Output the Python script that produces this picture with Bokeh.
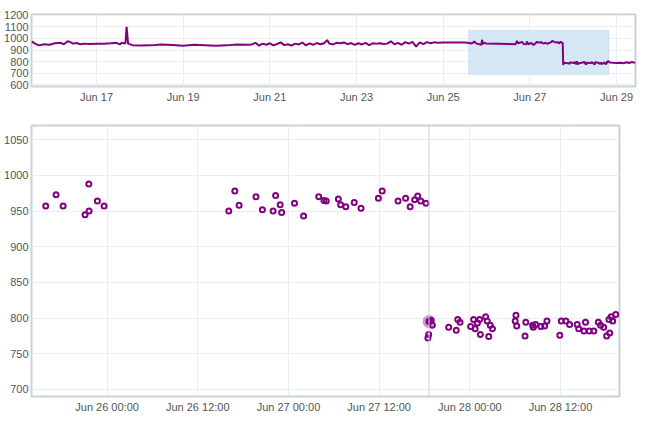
import pandas as pd
from bokeh.plotting import figure
from bokeh.layouts import column
from bokeh.models import (ColumnDataSource, FixedTicker, SingleIntervalTicker,
                          DatetimeTickFormatter, BoxAnnotation, Span, Range1d)
from bokeh.embed import file_html
from bokeh.resources import INLINE

# ---------------- data ----------------
times = [
    "2018-06-15 12:00", "2018-06-15 14:00", "2018-06-15 16:00", "2018-06-15 19:00", "2018-06-15 22:00",
    "2018-06-16 01:00", "2018-06-16 04:00", "2018-06-16 06:00", "2018-06-16 08:00", "2018-06-16 09:00",
    "2018-06-16 11:00", "2018-06-16 13:00", "2018-06-16 15:00", "2018-06-16 17:00", "2018-06-16 20:00",
    "2018-06-17 00:00", "2018-06-17 04:00", "2018-06-17 08:00", "2018-06-17 11:00", "2018-06-17 13:00",
    "2018-06-17 14:00", "2018-06-17 16:00", "2018-06-17 16:40", "2018-06-17 17:30", "2018-06-17 20:00",
    "2018-06-18 00:00", "2018-06-18 06:00", "2018-06-18 12:00", "2018-06-18 18:00", "2018-06-19 00:00",
    "2018-06-19 06:00", "2018-06-19 12:00", "2018-06-19 18:00", "2018-06-20 00:00", "2018-06-20 06:00",
    "2018-06-20 12:00",
    "2018-06-20 14:00", "2018-06-20 16:00", "2018-06-20 18:00", "2018-06-20 20:00", "2018-06-20 22:00",
    "2018-06-21 00:00", "2018-06-21 02:00", "2018-06-21 04:00", "2018-06-21 06:00", "2018-06-21 08:00",
    "2018-06-21 10:00", "2018-06-21 12:00", "2018-06-21 14:00", "2018-06-21 16:00", "2018-06-21 18:00",
    "2018-06-21 20:00", "2018-06-21 22:00", "2018-06-22 00:00", "2018-06-22 02:00", "2018-06-22 04:00",
    "2018-06-22 06:00", "2018-06-22 07:45", "2018-06-22 09:00", "2018-06-22 11:00", "2018-06-22 13:00",
    "2018-06-22 15:00", "2018-06-22 17:00", "2018-06-22 19:00", "2018-06-22 21:00", "2018-06-22 23:00",
    "2018-06-23 01:00", "2018-06-23 03:00", "2018-06-23 05:00", "2018-06-23 07:00", "2018-06-23 09:00",
    "2018-06-23 11:00", "2018-06-23 13:00", "2018-06-23 15:00", "2018-06-23 17:00", "2018-06-23 19:00",
    "2018-06-23 21:00", "2018-06-23 23:00", "2018-06-24 01:00", "2018-06-24 03:00", "2018-06-24 05:00",
    "2018-06-24 07:00", "2018-06-24 09:00", "2018-06-24 11:00", "2018-06-24 13:00", "2018-06-24 15:00",
    "2018-06-24 17:00", "2018-06-24 19:00", "2018-06-24 21:00", "2018-06-25 00:00", "2018-06-25 06:00",
    "2018-06-25 12:00", "2018-06-25 13:30",
    # window: first cluster
    "2018-06-25 15:53", "2018-06-25 17:15", "2018-06-25 18:11", "2018-06-25 21:05", "2018-06-25 21:35",
    "2018-06-25 21:37", "2018-06-25 22:43", "2018-06-25 23:36",
    # second cluster
    "2018-06-26 16:06", "2018-06-26 16:54", "2018-06-26 17:28", "2018-06-26 19:42", "2018-06-26 20:33",
    "2018-06-26 21:58", "2018-06-26 22:18", "2018-06-26 22:54", "2018-06-26 23:06", "2018-06-27 00:48",
    "2018-06-27 02:00", "2018-06-27 04:00", "2018-06-27 04:42", "2018-06-27 05:00", "2018-06-27 06:36",
    "2018-06-27 06:54", "2018-06-27 07:35", "2018-06-27 08:42", "2018-06-27 09:36", "2018-06-27 11:54",
    "2018-06-27 12:24", "2018-06-27 14:30", "2018-06-27 15:30", "2018-06-27 16:06", "2018-06-27 16:42",
    "2018-06-27 17:06", "2018-06-27 17:30", "2018-06-27 18:12",
    # third cluster
    "2018-06-27 18:27", "2018-06-27 18:33", "2018-06-27 18:36", "2018-06-27 18:51", "2018-06-27 19:03",
    "2018-06-27 21:12", "2018-06-27 22:12", "2018-06-27 22:24", "2018-06-27 22:42", "2018-06-28 00:06",
    "2018-06-28 00:30", "2018-06-28 00:42", "2018-06-28 01:00", "2018-06-28 01:18", "2018-06-28 01:24",
    "2018-06-28 02:06", "2018-06-28 02:18", "2018-06-28 02:30", "2018-06-28 02:42", "2018-06-28 03:00",
    "2018-06-28 06:00", "2018-06-28 06:06", "2018-06-28 06:12", "2018-06-28 07:18", "2018-06-28 07:24",
    "2018-06-28 08:18", "2018-06-28 08:24", "2018-06-28 08:42", "2018-06-28 09:24", "2018-06-28 09:54",
    "2018-06-28 10:12", "2018-06-28 11:54", "2018-06-28 12:06", "2018-06-28 12:42", "2018-06-28 13:12",
    "2018-06-28 14:12", "2018-06-28 14:24", "2018-06-28 15:06", "2018-06-28 15:18", "2018-06-28 15:48",
    "2018-06-28 16:24", "2018-06-28 17:00", "2018-06-28 17:18", "2018-06-28 17:42", "2018-06-28 18:06",
    "2018-06-28 18:24", "2018-06-28 18:30", "2018-06-28 18:42", "2018-06-28 18:54", "2018-06-28 19:18",
    # after window
    "2018-06-28 20:30", "2018-06-28 22:00", "2018-06-29 00:00", "2018-06-29 02:00", "2018-06-29 04:00",
    "2018-06-29 05:30", "2018-06-29 07:00", "2018-06-29 08:30", "2018-06-29 10:30",
]
values = [
    975, 955, 940, 950, 945,
    958, 962, 950, 975, 972,
    955, 960, 950, 955, 952,
    955, 955, 958, 962, 948,
    962, 955, 1100, 955, 942,
    938, 940, 948, 944, 936,
    945, 942, 936, 940, 948,
    945,
    948, 962, 938, 955, 945,
    958, 940, 952, 966, 942,
    950, 938, 955, 948, 964,
    940, 957, 945, 960, 950,
    958, 985, 955, 948, 962,
    958, 965, 950, 960, 944,
    958, 948, 962, 942, 958,
    955, 958, 952, 955, 975,
    950, 962, 945, 968, 955,
    970, 930, 965, 950, 968,
    958, 966, 962, 965, 964,
    965, 963,
    957, 973, 957, 945, 988,
    950, 964, 957,
    950, 978, 958, 970, 952,
    950, 972, 959, 948, 961,
    943, 970, 965, 964, 967,
    959, 956, 962, 954, 968,
    978, 964, 968, 956, 966,
    971, 964, 961,
    772, 777, 795, 797, 790,
    787, 783, 798, 794, 788,
    798, 785, 793, 798, 777,
    802, 796, 774, 790, 785,
    796, 804, 789, 775, 794,
    790, 787, 791, 788, 789,
    796, 776, 796, 796, 791,
    791, 785, 782, 794, 782,
    782, 794, 790, 787, 775,
    798, 779, 802, 796, 805,
    792, 790, 788, 790, 786,
    795, 788, 798, 790,
]

hover_time = ["2018-06-27 18:36"]
hover_value = [795]

top_tick_labels = ["2018-06-17", "2018-06-19", "2018-06-21", "2018-06-23",
                   "2018-06-25", "2018-06-27", "2018-06-29"]
bottom_tick_labels = ["2018-06-26 00:00", "2018-06-26 12:00", "2018-06-27 00:00",
                      "2018-06-27 12:00", "2018-06-28 00:00", "2018-06-28 12:00"]

overview_x = ("2018-06-15 12:00", "2018-06-29 10:30")
overview_y = (587, 1205)
window_x = ("2018-06-25 14:00", "2018-06-28 19:48")
window_y = (690, 1070)


def ms(seq):
    return [float((pd.Timestamp(s) - pd.Timestamp("1970-01-01")) / pd.Timedelta("1ms")) for s in seq]


PURPLE = "#800080"
OUTLINE = "#c9d2dc"
GRID = "#eaedf1"
LABEL = "#555555"
FONT = "Liberation Sans"

src = ColumnDataSource(data=dict(t=ms(times), v=values))


def style(p):
    p.outline_line_color = OUTLINE
    p.outline_line_width = 2
    p.background_fill_color = "white"
    p.border_fill_color = "white"
    for ax in (p.xaxis[0], p.yaxis[0]):
        ax.axis_line_color = None
        ax.major_tick_line_color = None
        ax.minor_tick_line_color = None
        ax.major_tick_out = 0
        ax.major_tick_in = 0
        ax.major_label_text_font = FONT
        ax.major_label_text_font_size = "11px"
        ax.major_label_text_color = LABEL
        ax.major_label_standoff = 3
    p.xaxis[0].major_label_standoff = 4
    p.xgrid.grid_line_color = GRID
    p.ygrid.grid_line_color = GRID


# ---------------- overview ----------------
ox = ms(overview_x)
p1 = figure(frame_width=604, frame_height=72, x_axis_type="datetime",
            x_range=Range1d(ox[0], ox[1]), y_range=Range1d(*overview_y),
            output_backend="svg", toolbar_location=None,
            min_border_left=30, min_border_right=5, min_border_top=14, min_border_bottom=20)
style(p1)
p1.xaxis.ticker = FixedTicker(ticks=ms(top_tick_labels))
fmt1 = "%b %d"
p1.xaxis.formatter = DatetimeTickFormatter(days=fmt1, months=fmt1, hours=fmt1, hourmin=fmt1,
                                           minutes=fmt1, years=fmt1)
p1.yaxis.ticker = SingleIntervalTicker(interval=100, num_minor_ticks=0)

wx = ms(window_x)
box = BoxAnnotation(left=wx[0], right=wx[1], bottom=window_y[0], top=window_y[1],
                    fill_color="#d5e6f5", fill_alpha=1.0, line_color="#a8c8e6", line_width=1,
                    level="underlay")
p1.add_layout(box)
p1.line("t", "v", source=src, color=PURPLE, line_width=2)

# ---------------- detail ----------------
p2 = figure(frame_width=588, frame_height=271, x_axis_type="datetime",
            x_range=Range1d(wx[0], wx[1]), y_range=Range1d(*window_y),
            output_backend="svg", toolbar_location=None,
            min_border_left=31, min_border_right=5, min_border_top=19, min_border_bottom=20)
style(p2)
p2.xaxis.ticker = FixedTicker(ticks=ms(bottom_tick_labels))
fmt2 = "%b %d %H:%M"
p2.xaxis.formatter = DatetimeTickFormatter(days=fmt2, months=fmt2, hours=fmt2, hourmin=fmt2,
                                           minutes=fmt2, years=fmt2)
p2.yaxis.ticker = SingleIntervalTicker(interval=50, num_minor_ticks=0)

hx = ms(hover_time)
p2.add_layout(Span(location=hx[0], dimension="height", line_color="#cfcfcf", line_width=1))
p2.scatter(hx, hover_value, size=13, fill_color=PURPLE, fill_alpha=0.4, line_color=None)
p2.scatter("t", "v", source=src, size=5, fill_color=None, line_color=PURPLE, line_width=2)

layout = column(p1, p2, spacing=0)

open("out.html", "w").write(file_html(layout, INLINE))
